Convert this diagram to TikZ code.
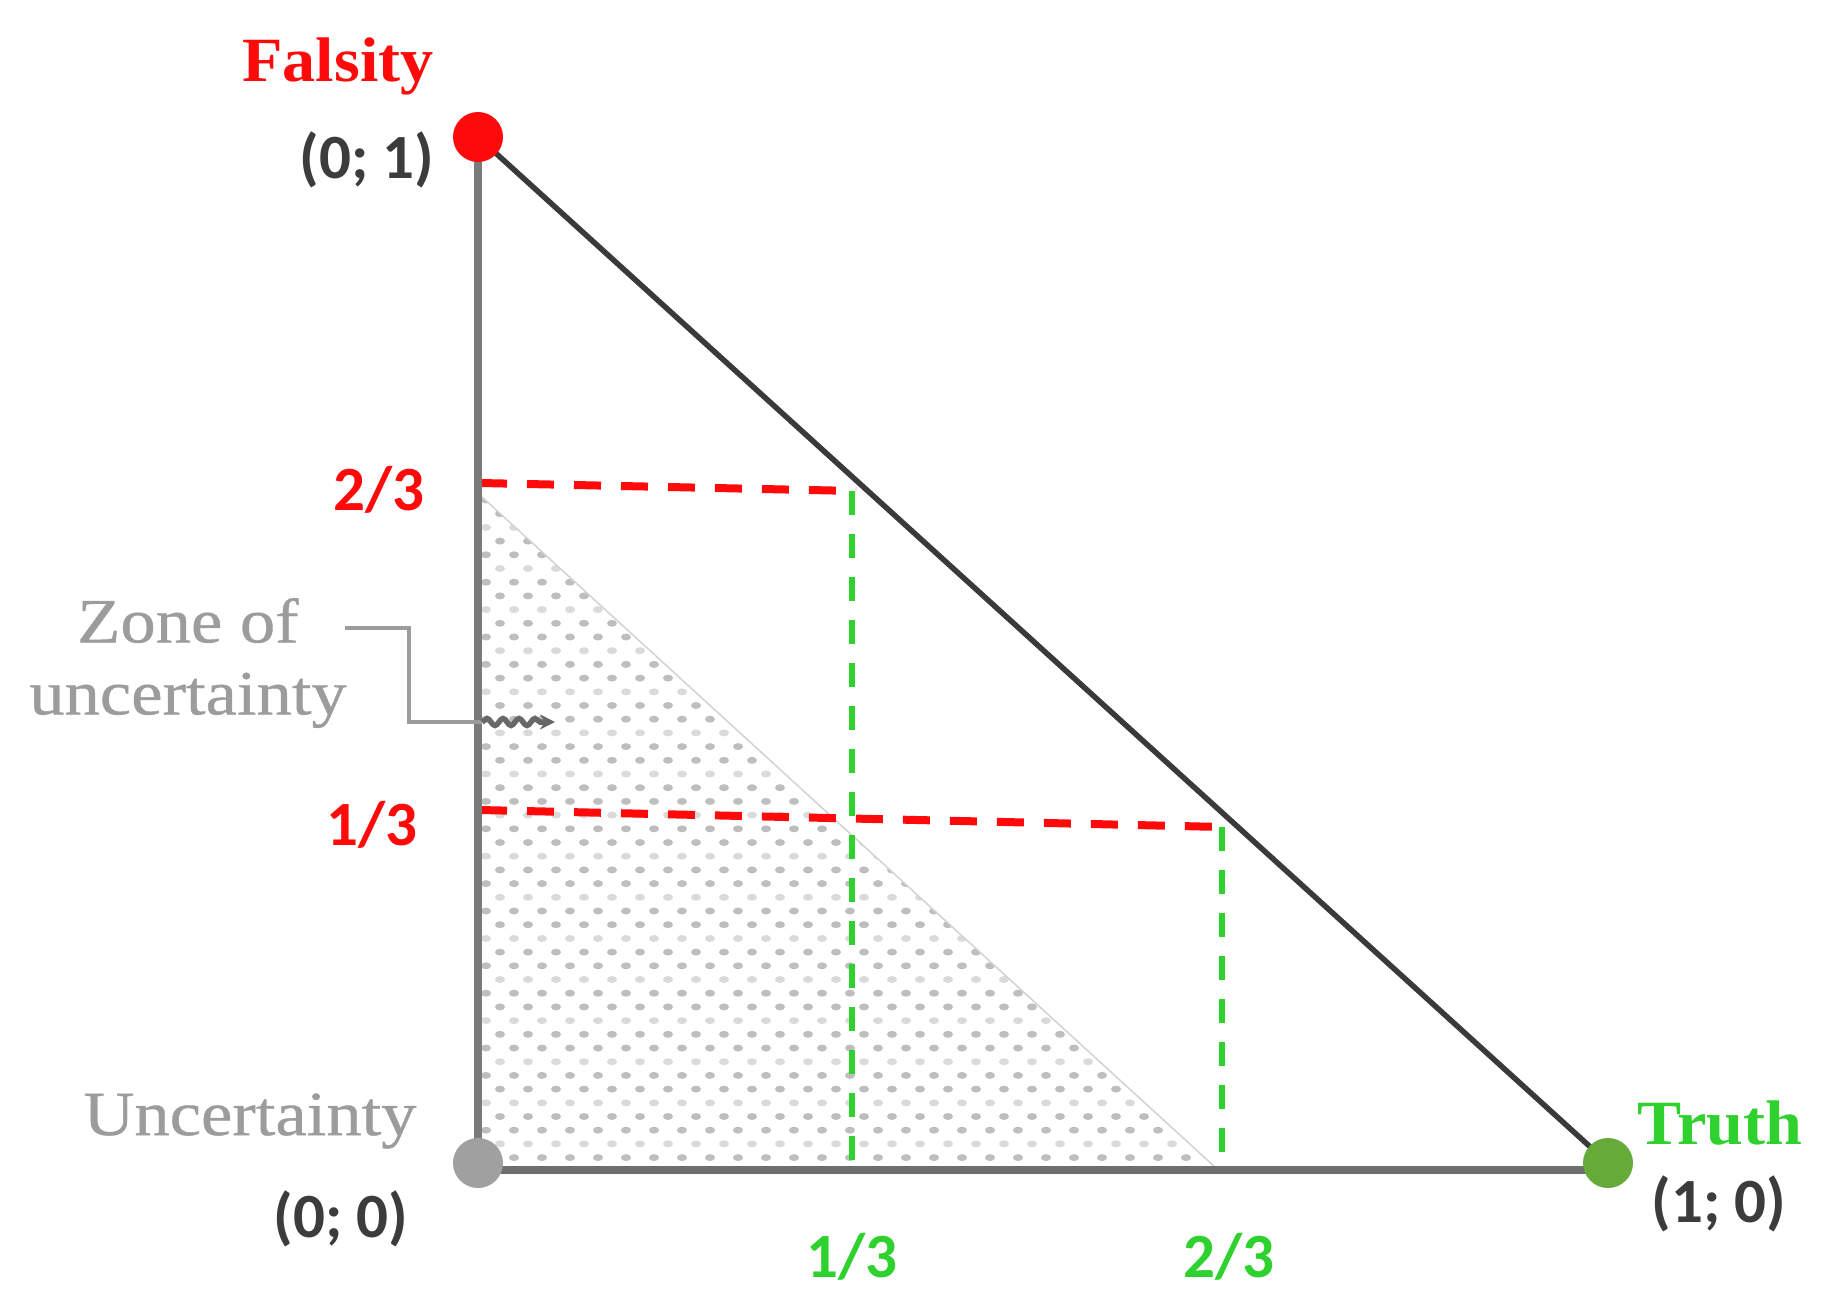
\documentclass[tikz,border=0pt]{standalone}
\usepackage{fontspec}
\setmainfont{Carlito}
\newfontfamily\serifb[FakeStretch=1.05]{Liberation Serif}
\newfontfamily\serifr[FakeStretch=1.12,FakeBold=0.6]{Liberation Serif}
\usetikzlibrary{decorations.pathmorphing,arrows.meta}
\definecolor{fred}{HTML}{FF0A0A}
\definecolor{fgreen}{HTML}{2ED12E}
\definecolor{lgray}{HTML}{9C9C9C}
\definecolor{dgray}{HTML}{3C3C3C}
\definecolor{axisgray}{HTML}{7A7A7A}
\definecolor{hyp}{HTML}{3A3A3A}
\definecolor{tgreen}{HTML}{66AA3A}
\definecolor{ugray}{HTML}{A0A0A0}
\definecolor{dotgray}{HTML}{BEBEBE}
\definecolor{dotlight}{HTML}{DADADA}
\tikzset{
  coordlbl/.style={font=\bfseries\fontsize{63}{72}\selectfont, text=dgray, inner sep=0pt},
  redlbl/.style={font=\bfseries\fontsize{63}{72}\selectfont, text=fred, inner sep=0pt},
  greenlbl/.style={font=\bfseries\fontsize{63}{72}\selectfont, text=fgreen, inner sep=0pt},
  titlelbl/.style={font=\serifb\bfseries\fontsize{63}{72}\selectfont, inner sep=0pt},
  graylbl/.style={font=\serifr\fontsize{63}{72}\selectfont, text=lgray, inner sep=0pt, align=center},
  vertex/.style={circle, inner sep=0pt, minimum size=50pt},
  reddash/.style={draw=fred, line width=8pt, dash pattern=on 27pt off 20pt},
  greendash/.style={draw=fgreen, line width=6pt, dash pattern=on 24pt off 19pt},
  conn/.style={draw=lgray, line width=4pt},
}
\begin{document}
\begin{tikzpicture}[x=1pt,y=-1pt]
\useasboundingbox (0,0) rectangle (1821,1300);

% dotted zone of uncertainty
\begin{scope}
\clip (482,497) -- (482,1168) -- (1216,1168) -- cycle;
\foreach \r in {0,...,49} {
  \pgfmathsetmacro{\lt}{mod(\r,3)==2 ? 1 : 0}
  \foreach \c in {0,...,26} {
    \ifdim\lt pt>0.5pt
      \fill[dotlight] ({486+28*\c+mod(\r,2)*14},{500+13.7*\r}) ellipse (5 and 3.5);
    \else
      \fill[dotgray] ({486+28*\c+mod(\r,2)*14},{500+13.7*\r}) ellipse (5 and 3.5);
    \fi
  }
}
\end{scope}
\draw[gray!35, line width=1.5pt] (482,497) -- (1216,1168);

% guide coordinates
\coordinate (r2a) at (480,483);
\coordinate (r2b) at (856,491);
\coordinate (r1a) at (480,810);
\coordinate (r1b) at (1222,827);
\coordinate (g1a) at (852,491);
\coordinate (g1b) at (852,1168);
\coordinate (g2a) at (1222,827);
\coordinate (g2b) at (1222,1168);

\draw[greendash] (g1a) -- (g1b);
\draw[greendash] (g2a) -- (g2b);
\draw[reddash] (r2a) -- (r2b);
\draw[reddash] (r1a) -- (r1b);

% vertices
\node[vertex] (F) at (478,137) {};
\node[vertex] (U) at (478,1163) {};
\node[vertex] (T) at (1608,1163) {};

% axes
\draw[axisgray, line width=8pt] (F.center) -- (U.center);
\draw[axisgray!90!black, line width=8pt] ([yshift=-7pt]U.center) -- ([yshift=-7pt]T.center);
\draw[hyp, line width=5.5pt] (F.center) -- (T.center);

\fill[fred] (F) circle (25pt);
\fill[ugray] (U) circle (25pt);
\fill[tgreen] (T) circle (25pt);

% labels
\node[titlelbl, text=fred] (falsity) at (338,66) {Falsity};
\node[coordlbl] (c01) at (367,160) {(0; 1)};
\node[redlbl] (l23) at (379,490) {2/3};
\node[redlbl] (l13) at (372,825) {1/3};
\node[graylbl] (zone) at (188,663) {Zone of\\uncertainty};
\node[graylbl] (unc) at (250,1121) {Uncertainty};
\node[coordlbl] (c00) at (341,1219) {(0; 0)};
\node[titlelbl, text=fgreen] (truth) at (1720,1123) {Truth};
\node[coordlbl] (c10) at (1719,1204) {(1; 0)};
\node[greenlbl] (b13) at (852,1257) {1/3};
\node[greenlbl] (b23) at (1229,1257) {2/3};

% zone connector
\coordinate (z1) at (345,628);
\coordinate (zc) at (409,722);
\coordinate (z3) at (482,722);
\coordinate (z4) at (555,722);
\draw[conn] (z1) -| (zc) -- (z3);
\draw[draw=axisgray!85!black, line width=5.5pt, decorate,
      decoration={snake, amplitude=3.5pt, segment length=16pt, post length=10pt},
      -{Stealth[length=15pt,width=15pt]}] (z3) -- (z4);
\end{tikzpicture}
\end{document}
